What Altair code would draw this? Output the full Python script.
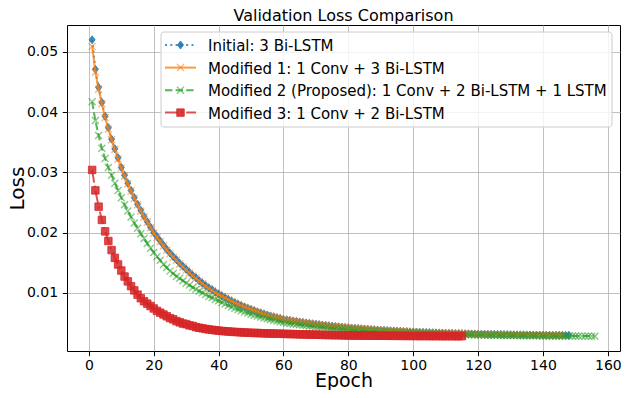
import altair as alt
import pandas as pd

# ---------------- data ----------------
series_names = [
    "Initial: 3 Bi-LSTM",
    "Modified 1: 1 Conv + 3 Bi-LSTM",
    "Modified 2 (Proposed): 1 Conv + 2 Bi-LSTM + 1 LSTM",
    "Modified 3: 1 Conv + 2 Bi-LSTM",
]

initial_loss = [
    0.0520, 0.0471, 0.0441, 0.0416, 0.0393, 0.0374, 0.0355, 0.0339, 0.0324, 0.0308,
    0.0295, 0.0282, 0.0270, 0.0258, 0.0247, 0.0237, 0.0227, 0.0218, 0.0209, 0.0200,
    0.0193, 0.0186, 0.0179, 0.0172, 0.0166, 0.0160, 0.0155, 0.0149, 0.0144, 0.0139,
    0.0134, 0.0129, 0.0125, 0.0120, 0.0116, 0.0112, 0.0108, 0.0105, 0.0101, 0.0098,
    0.00948, 0.00918, 0.00890, 0.00862, 0.00836, 0.00811, 0.00787, 0.00764, 0.00743, 0.00722,
    0.00702, 0.00683, 0.00665, 0.00647, 0.00631, 0.00615, 0.00600, 0.00586, 0.00572, 0.00559,
    0.00551, 0.00542, 0.00533, 0.00525, 0.00516, 0.00508, 0.00500, 0.00493, 0.00486, 0.00479,
    0.00472, 0.00465, 0.00459, 0.00453, 0.00447, 0.00441, 0.00436, 0.00431, 0.00426, 0.00421,
    0.00416, 0.00412, 0.00407, 0.00403, 0.00399, 0.00395, 0.00391, 0.00387, 0.00383, 0.00380,
    0.00377, 0.00373, 0.00370, 0.00367, 0.00364, 0.00361, 0.00358, 0.00356, 0.00353, 0.00351,
    0.00349, 0.00346, 0.00344, 0.00342, 0.00340, 0.00338, 0.00336, 0.00334, 0.00332, 0.00330,
    0.00328, 0.00327, 0.00325, 0.00324, 0.00322, 0.00321, 0.00319, 0.00318, 0.00317, 0.00315,
    0.00314, 0.00313, 0.00312, 0.00311, 0.00310, 0.00309, 0.00308, 0.00307, 0.00306, 0.00305,
    0.00304, 0.00303, 0.00302, 0.00302, 0.00301, 0.00300, 0.00300, 0.00299, 0.00298, 0.00298,
    0.00297, 0.00297, 0.00296, 0.00296, 0.00295, 0.00295, 0.00294, 0.00294,
]

mod1_loss = [
    0.0509, 0.0466, 0.0438, 0.0414, 0.0391, 0.0372, 0.0354, 0.0338, 0.0322, 0.0307,
    0.0294, 0.0281, 0.0269, 0.0257, 0.0246, 0.0236, 0.0226, 0.0217, 0.0208, 0.0199,
    0.0192, 0.0185, 0.0178, 0.0171, 0.0165, 0.0159, 0.0154, 0.0148, 0.0143, 0.0138,
    0.0133, 0.0128, 0.0124, 0.0119, 0.0115, 0.0111, 0.0107, 0.0104, 0.0100, 0.0097,
    0.00941, 0.00912, 0.00884, 0.00857, 0.00831, 0.00806, 0.00782, 0.00760, 0.00739, 0.00718,
    0.00699, 0.00680, 0.00662, 0.00645, 0.00628, 0.00613, 0.00598, 0.00584, 0.00570, 0.00557,
    0.00548, 0.00539, 0.00531, 0.00522, 0.00514, 0.00506, 0.00498, 0.00491, 0.00484, 0.00477,
    0.00470, 0.00464, 0.00457, 0.00451, 0.00445, 0.00440, 0.00434, 0.00429, 0.00424, 0.00419,
    0.00415, 0.00410, 0.00406, 0.00402, 0.00398, 0.00394, 0.00390, 0.00386, 0.00382, 0.00379,
    0.00376, 0.00372, 0.00369, 0.00366, 0.00363, 0.00360, 0.00357, 0.00355, 0.00352, 0.00350,
    0.00348, 0.00345, 0.00343, 0.00341, 0.00339, 0.00337, 0.00335, 0.00333, 0.00331, 0.00329,
    0.00328, 0.00326, 0.00324, 0.00323, 0.00321, 0.00320, 0.00319, 0.00317, 0.00316, 0.00315,
    0.00314, 0.00312, 0.00311, 0.00310, 0.00309, 0.00308, 0.00307, 0.00306, 0.00305, 0.00304,
    0.00303, 0.00303, 0.00302, 0.00301, 0.00300, 0.00300, 0.00299, 0.00298, 0.00298, 0.00297,
    0.00297, 0.00296, 0.00296, 0.00295, 0.00295, 0.00294,
]

mod2_loss = [
    0.0417, 0.0386, 0.0361, 0.0340, 0.0323, 0.0308, 0.0295, 0.0282, 0.0270, 0.0258,
    0.0246, 0.0236, 0.0226, 0.0216, 0.0207, 0.0198, 0.0190, 0.0182, 0.0174, 0.0167,
    0.0160, 0.0154, 0.0147, 0.0142, 0.0136, 0.0132, 0.0127, 0.0124, 0.0120, 0.0116,
    0.0113, 0.0109, 0.0106, 0.0103, 0.0100, 0.0097, 0.0094, 0.0092, 0.0089, 0.0087,
    0.00839, 0.00813, 0.00789, 0.00766, 0.00743, 0.00722, 0.00702, 0.00682, 0.00664, 0.00646,
    0.00629, 0.00613, 0.00598, 0.00583, 0.00569, 0.00555, 0.00543, 0.00530, 0.00519, 0.00507,
    0.00499, 0.00491, 0.00484, 0.00477, 0.00470, 0.00463, 0.00456, 0.00450, 0.00444, 0.00438,
    0.00432, 0.00427, 0.00422, 0.00416, 0.00411, 0.00407, 0.00402, 0.00398, 0.00393, 0.00389,
    0.00385, 0.00381, 0.00377, 0.00374, 0.00370, 0.00367, 0.00364, 0.00361, 0.00357, 0.00354,
    0.00352, 0.00349, 0.00346, 0.00344, 0.00341, 0.00339, 0.00336, 0.00334, 0.00332, 0.00330,
    0.00328, 0.00326, 0.00324, 0.00322, 0.00320, 0.00319, 0.00317, 0.00315, 0.00314, 0.00312,
    0.00311, 0.00310, 0.00308, 0.00307, 0.00306, 0.00305, 0.00303, 0.00302, 0.00301, 0.00300,
    0.00299, 0.00298, 0.00297, 0.00296, 0.00295, 0.00294, 0.00293, 0.00293, 0.00292, 0.00291,
    0.00290, 0.00290, 0.00289, 0.00288, 0.00288, 0.00287, 0.00287, 0.00286, 0.00286, 0.00285,
    0.00285, 0.00284, 0.00284, 0.00284, 0.00283, 0.00283, 0.00283, 0.00282, 0.00282, 0.00282,
    0.00281, 0.00281, 0.00281, 0.00281, 0.00280, 0.00280,
]

mod3_loss = [
    0.0304, 0.0270, 0.0243, 0.0221, 0.0202, 0.0186, 0.0171, 0.0158, 0.0147, 0.0137,
    0.0127, 0.0119, 0.0111, 0.0104, 0.0097, 0.0091, 0.0086, 0.0082, 0.0078, 0.0074,
    0.0070, 0.0067, 0.0064, 0.0061, 0.0058, 0.0056, 0.0053, 0.0051, 0.0049, 0.0048,
    0.0046, 0.0045, 0.0043, 0.0042, 0.0041, 0.00400, 0.00392, 0.00385, 0.00378, 0.00372,
    0.00367, 0.00362, 0.00358, 0.00354, 0.00350, 0.00347, 0.00344, 0.00341, 0.00338, 0.00336,
    0.00334, 0.00332, 0.00330, 0.00328, 0.00326, 0.00325, 0.00323, 0.00322, 0.00320, 0.00319,
    0.00317, 0.00316, 0.00314, 0.00313, 0.00311, 0.00310, 0.00309, 0.00307, 0.00306, 0.00305,
    0.00303, 0.00302, 0.00300, 0.00299, 0.00298, 0.00297, 0.00296, 0.00295, 0.00294, 0.00293,
    0.00292, 0.00291, 0.00291, 0.00290, 0.00290, 0.00289, 0.00289, 0.00288, 0.00288, 0.00287,
    0.00287, 0.00286, 0.00286, 0.00286, 0.00285, 0.00285, 0.00285, 0.00284, 0.00284, 0.00284,
    0.00283, 0.00283, 0.00283, 0.00283, 0.00282, 0.00282, 0.00282, 0.00282, 0.00281, 0.00281,
    0.00281, 0.00281, 0.00280, 0.00280, 0.00280,
]

x_ticks = [0, 20, 40, 60, 80, 100, 120, 140, 160]
y_ticks = [0.01, 0.02, 0.03, 0.04, 0.05]

# ---------------- styling ----------------
FONT = "DejaVu Sans"
W, H = 553, 326
PAD = {"left": 59, "top": 17, "right": 1, "bottom": 39}
COLORS = ["#1f77b4", "#ff7f0e", "#2ca02c", "#d62728"]
DASHES = [[2, 3.3], None, [7.4, 3.2], [12.8, 3.2, 2, 3.2]]
DIAMOND = "M0,-1L0.75,0L0,1L-0.75,0Z"
XMARK = "M-1,-1L1,1M-1,1L1,-1"
SHAPES = [DIAMOND, XMARK, XMARK, "square"]
FILLED = [True, False, False, True]
SIZES = [64, 49, 49, 56]

xscale = alt.Scale(domain=[-6.75, 163.75], nice=False, zero=False)
yscale = alt.Scale(domain=[0.00034, 0.05446], nice=False, zero=False)

common_axis = dict(
    grid=True, gridColor="#b0b0b0", gridWidth=0.8, domain=False,
    ticks=True, tickColor="black", tickSize=4.7, tickWidth=1,
    labelFont=FONT, labelFontSize=14, labelColor="black",
    titleFont=FONT, titleFontWeight="normal", titleColor="black",
    labelFlush=False,
)
x_axis = alt.Axis(values=x_ticks, title="Epoch", labelPadding=3, format="d",
                  titleFontSize=19, titleX=W / 2, titleY=35.5,
                  titleBaseline="alphabetic", titleAlign="center", **common_axis)
y_axis = alt.Axis(values=y_ticks, title="Loss", labelPadding=4.7, format=".2f",
                  titleFontSize=20, titleX=-43.5, titleY=H / 2, titleAngle=270,
                  titleBaseline="alphabetic", titleAlign="center", **common_axis)

all_series = [initial_loss, mod1_loss, mod2_loss, mod3_loss]

layers = []
for i, vals in enumerate(all_series):
    df = pd.DataFrame({"epoch": list(range(1, len(vals) + 1)), "loss": vals})
    base = alt.Chart(df).encode(
        x=alt.X("epoch:Q", scale=xscale, axis=x_axis),
        y=alt.Y("loss:Q", scale=yscale, axis=y_axis),
    )
    line_kw = dict(color=COLORS[i], strokeWidth=2, opacity=0.8)
    if DASHES[i] is not None:
        line_kw["strokeDash"] = DASHES[i]
    layers.append(base.mark_line(**line_kw))
    if FILLED[i]:
        pts = base.mark_point(shape=SHAPES[i], filled=True, size=SIZES[i],
                              fill=COLORS[i], fillOpacity=0.85,
                              stroke=COLORS[i], strokeOpacity=0.8, strokeWidth=1)
    else:
        pts = base.mark_point(shape=SHAPES[i], filled=False, size=SIZES[i],
                              stroke=COLORS[i], strokeOpacity=0.8, strokeWidth=1.4)
    layers.append(pts)

# ---------------- legend (drawn manually, matplotlib style) ----------------
dummy = pd.DataFrame({"k": [0]})
legend_box = alt.Chart(dummy).mark_rect(
    fill="white", fillOpacity=0.8, stroke="#cccccc", strokeWidth=1, cornerRadius=3
).encode(x=alt.value(94), x2=alt.value(545), y=alt.value(7), y2=alt.value(102))
layers.append(legend_box)

row_y = [20, 42.6, 65.2, 87.6]
for i, name in enumerate(series_names):
    rk = dict(color=COLORS[i], strokeWidth=2, opacity=0.8)
    if DASHES[i] is not None:
        rk["strokeDash"] = DASHES[i]
    layers.append(alt.Chart(dummy).mark_rule(**rk).encode(
        x=alt.value(98), x2=alt.value(129), y=alt.value(row_y[i])))
    if FILLED[i]:
        mk = alt.Chart(dummy).mark_point(shape=SHAPES[i], filled=True, size=SIZES[i],
                                         fill=COLORS[i], fillOpacity=0.9,
                                         stroke=COLORS[i], strokeOpacity=0.8, strokeWidth=1)
    else:
        mk = alt.Chart(dummy).mark_point(shape=SHAPES[i], filled=False, size=SIZES[i],
                                         stroke=COLORS[i], strokeOpacity=0.8, strokeWidth=1.4)
    layers.append(mk.encode(x=alt.value(113.5), y=alt.value(row_y[i])))
    layers.append(alt.Chart(dummy).mark_text(
        align="left", baseline="middle", font=FONT, fontSize=15, color="black"
    ).encode(x=alt.value(141), y=alt.value(row_y[i] + 1), text=alt.value(name)))

chart = alt.layer(*layers).properties(
    width=W,
    height=H,
    title=alt.TitleParams("Validation Loss Comparison", font=FONT, fontSize=16,
                          fontWeight="normal", color="black", offset=1.5),
    autosize=alt.AutoSizeParams(type="none"),
    padding=PAD,
    background="white",
).configure_view(stroke="black", strokeWidth=1)

chart.save("out.html", embed_options={"renderer": "svg", "actions": False})
